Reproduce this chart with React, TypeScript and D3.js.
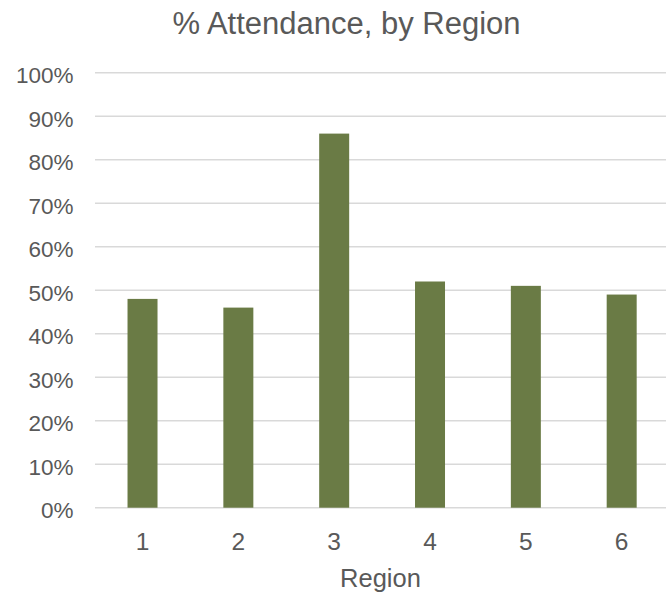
import React from "react";
import * as d3 from "d3";

const regions: string[] = ["1", "2", "3", "4", "5", "6"];
const attendance: number[] = [0.48, 0.46, 0.86, 0.52, 0.51, 0.49];
const yTicks: number[] = [0, 0.1, 0.2, 0.3, 0.4, 0.5, 0.6, 0.7, 0.8, 0.9, 1.0];

const W = 666;
const H = 594;
const FONT = "'Liberation Sans', Arial, sans-serif";
const TEXT = "#595959";

export default function App() {
  const x = d3
    .scaleBand<string>()
    .domain(regions)
    .range([94.6, 669.6])
    .paddingInner(0.687)
    .paddingOuter(0.3435);
  const y = d3.scaleLinear().domain([0, 1]).range([507.7, 72.7]);
  const fmt = d3.format(".0%");

  return (
    <svg
      width={W}
      height={H}
      style={{ position: "absolute", left: 0, top: 0, background: "#fff" }}
      fontFamily={FONT}
    >
      <rect x={0} y={0} width={W} height={H} fill="#fff" />
      <text x={346.5} y={33.5} textAnchor="middle" fontSize={31} fill={TEXT}>
        % Attendance, by Region
      </text>
      {yTicks.map((t) => (
        <g key={t}>
          <line x1={95} x2={W} y1={y(t)} y2={y(t)} stroke="#D9D9D9" strokeWidth={1.5} />
          <text x={73.5} y={y(t) + 10.3} textAnchor="end" fontSize={22.5} fill={TEXT}>
            {fmt(t)}
          </text>
        </g>
      ))}
      {regions.map((r, i) => (
        <rect
          key={r}
          x={x(r)!}
          y={y(attendance[i])}
          width={x.bandwidth()}
          height={y(0) - y(attendance[i])}
          fill="#6A7B45"
        />
      ))}
      {regions.map((r) => (
        <text
          key={"l" + r}
          x={x(r)! + x.bandwidth() / 2}
          y={549.5}
          textAnchor="middle"
          fontSize={24.5}
          fill={TEXT}
        >
          {r}
        </text>
      ))}
      <text x={380.5} y={587.3} textAnchor="middle" fontSize={25.5} fill={TEXT}>
        Region
      </text>
    </svg>
  );
}
